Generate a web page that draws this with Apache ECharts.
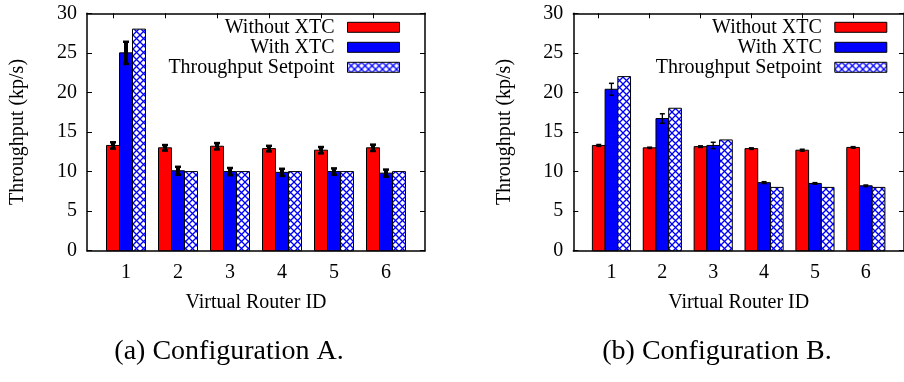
<!DOCTYPE html>
<html>
<head>
<meta charset="utf-8">
<script src="https://cdn.jsdelivr.net/npm/echarts@6/dist/echarts.min.js"></script>
<style>
  html, body { margin: 0; padding: 0; background: #fff; }
  #chart { width: 904px; height: 382px; }
</style>
</head>
<body>
<div id="chart"></div>
<script>
// Virtual router IDs (x categories)
const routerIds = [1, 2, 3, 4, 5, 6];
const seriesNames = ['Without XTC', 'With XTC', 'Throughput Setpoint'];
const captions = ['(a) Configuration A.', '(b) Configuration B.'];
const xAxisTitle = 'Virtual Router ID';
const yAxisTitle = 'Throughput (kp/s)';

// Configuration A (kp/s) with error half-widths
const aWithout    = [13.3, 13.0, 13.2, 12.9, 12.7, 13.0];
const aWithoutErr = [0.4, 0.35, 0.4, 0.35, 0.4, 0.4];
const aWith       = [25.0, 10.1, 10.0, 9.9, 10.0, 9.8];
const aWithErr    = [1.4, 0.5, 0.45, 0.45, 0.4, 0.45];
const aSetpoint   = [28, 10, 10, 10, 10, 10];

// Configuration B (kp/s) with error half-widths
const bWithout    = [13.3, 13.0, 13.15, 12.9, 12.7, 13.05];
const bWithoutErr = [0.12, 0.08, 0.1, 0.1, 0.12, 0.1];
const bWith       = [20.4, 16.7, 13.3, 8.6, 8.5, 8.2];
const bWithErr    = [0.75, 0.6, 0.4, 0.12, 0.1, 0.1];
const bSetpoint   = [22, 18, 14, 8, 8, 8];

const FONT = 'Liberation Serif';
const RED = '#ff0000';
const BLUE = '#0000ff';

// Blue cross-hatch tile for the setpoint bars
function makeHatch() {
  const s = 7;
  const c = document.createElement('canvas');
  c.width = s; c.height = s;
  const g = c.getContext('2d');
  g.fillStyle = '#ffffff';
  g.fillRect(0, 0, s, s);
  g.strokeStyle = BLUE;
  g.lineWidth = 1.3;
  g.beginPath();
  g.moveTo(0, 0); g.lineTo(s, s);
  g.moveTo(0, s); g.lineTo(s, 0);
  g.stroke();
  return c;
}
const hatch = { image: makeHatch(), repeat: 'repeat' };
const fills = [RED, BLUE, hatch];
const offsets = [-0.25, 0, 0.25];   // bar centre offset within a group
const BAR_HALF = 0.125;             // half bar width in axis units

function barRenderer(offset, fill) {
  return function (params, api) {
    const c = api.value(0);
    const v = api.value(1);
    const pTop = api.coord([c + offset - BAR_HALF, v]);
    const pBase = api.coord([c + offset + BAR_HALF, 0]);
    return {
      type: 'rect',
      shape: { x: pTop[0], y: pTop[1], width: pBase[0] - pTop[0], height: pBase[1] - pTop[1] },
      style: { fill: fill, stroke: '#000', lineWidth: 1 }
    };
  };
}

function errRenderer(offset, lw, capW, capLw) {
  return function (params, api) {
    const c = api.value(0);
    const lo = api.coord([c + offset, api.value(1)]);
    const hi = api.coord([c + offset, api.value(2)]);
    const x = lo[0];
    const st = { stroke: '#000', lineWidth: lw };
    const cs = { stroke: '#000', lineWidth: capLw };
    return {
      type: 'group',
      children: [
        { type: 'line', shape: { x1: x, y1: lo[1], x2: x, y2: hi[1] }, style: st },
        { type: 'line', shape: { x1: x - capW / 2, y1: lo[1], x2: x + capW / 2, y2: lo[1] }, style: cs },
        { type: 'line', shape: { x1: x - capW / 2, y1: hi[1], x2: x + capW / 2, y2: hi[1] }, style: cs }
      ]
    };
  };
}

const panels = [
  { left: 87, legendRight: 504, values: [aWithout, aWith, aSetpoint], errs: [aWithoutErr, aWithErr], eb: [4, 6, 2.5] },
  { left: 573.3, legendRight: 16.7, values: [bWithout, bWith, bSetpoint], errs: [bWithoutErr, bWithErr], eb: [1.3, 5, 1.5] }
];

const axisLineStyle = { color: '#000', width: 1.5 };
const tickStyle = { color: '#000', width: 1 };
const labelStyle = { fontFamily: FONT, fontSize: 20, color: '#000' };

const grid = [], xAxis = [], yAxis = [], series = [], legend = [], graphic = [];

panels.forEach(function (p, k) {
  grid.push({ left: p.left, top: 13.3, width: 338, height: 237.4 });

  xAxis.push({
    gridIndex: k, type: 'value', min: 0.25, max: 6.75, position: 'bottom',
    axisLine: { show: true, onZero: false, lineStyle: axisLineStyle },
    axisTick: { show: true, inside: true, length: 5, customValues: routerIds, lineStyle: tickStyle },
    axisLabel: Object.assign({ customValues: routerIds, margin: 12 }, labelStyle),
    splitLine: { show: false },
    name: xAxisTitle, nameLocation: 'middle', nameGap: 42,
    nameTextStyle: labelStyle
  });
  xAxis.push({
    gridIndex: k, type: 'value', min: 0.25, max: 6.75, position: 'top',
    axisLine: { show: true, onZero: false, lineStyle: axisLineStyle },
    axisTick: { show: true, inside: true, length: 5, customValues: routerIds.map(function (id) { return id - 0.25; }), lineStyle: tickStyle },
    axisLabel: { show: false },
    splitLine: { show: false }
  });
  yAxis.push({
    gridIndex: k, type: 'value', min: 0, max: 30, interval: 5, position: 'left',
    axisLine: { show: true, onZero: false, lineStyle: axisLineStyle },
    axisTick: { show: true, inside: true, length: 5, lineStyle: tickStyle },
    axisLabel: Object.assign({ margin: 10 }, labelStyle),
    splitLine: { show: false },
    name: yAxisTitle, nameLocation: 'middle', nameGap: 59,
    nameTextStyle: labelStyle
  });
  yAxis.push({
    gridIndex: k, type: 'value', min: 0, max: 30, interval: 5, position: 'right',
    axisLine: { show: true, onZero: false, lineStyle: axisLineStyle },
    axisTick: { show: true, inside: true, length: 5, lineStyle: tickStyle },
    axisLabel: { show: false },
    splitLine: { show: false }
  });

  const xi = k * 2, yi = k * 2;
  p.values.forEach(function (vals, j) {
    series.push({
      type: 'custom', name: seriesNames[j], xAxisIndex: xi, yAxisIndex: yi,
      itemStyle: { color: fills[j], borderColor: '#000', borderWidth: 1 },
      renderItem: barRenderer(offsets[j], fills[j]),
      encode: { x: 0, y: 1 },
      data: routerIds.map(function (id, i) { return [id, vals[i]]; }),
      z: 2
    });
  });
  p.errs.forEach(function (errs, j) {
    const vals = p.values[j];
    series.push({
      type: 'custom', name: seriesNames[j] + ' error', xAxisIndex: xi, yAxisIndex: yi,
      renderItem: errRenderer(offsets[j], p.eb[0], p.eb[1], p.eb[2]),
      encode: { x: 0, y: [1, 2] },
      data: routerIds.map(function (id, i) { return [id, vals[i] - errs[i], vals[i] + errs[i]]; }),
      z: 3
    });
  });

  seriesNames.forEach(function (name, j) {
    legend.push({
      right: p.legendRight, top: 17.3 + 20 * j, padding: 0,
      orient: 'horizontal', align: 'right', icon: 'rect',
      itemWidth: 52, itemHeight: 10, selectedMode: false,
      data: [{ name: name, itemStyle: { color: fills[j], borderColor: '#000', borderWidth: 1 } }],
      textStyle: Object.assign({ padding: [0, 8, 0, 0] }, labelStyle)
    });
  });
});

// Sub-figure captions
[229, 717].forEach(function (cx, k) {
  graphic.push({
    type: 'text', x: cx, y: 352,
    style: { text: captions[k], align: 'center', verticalAlign: 'middle', font: '28px "' + FONT + '"', fill: '#000' }
  });
});

const chart = echarts.init(document.getElementById('chart'), null, { renderer: 'canvas' });
chart.setOption({
  animation: false,
  backgroundColor: '#fff',
  grid: grid, xAxis: xAxis, yAxis: yAxis,
  legend: legend, series: series, graphic: graphic
});
</script>
</body>
</html>
